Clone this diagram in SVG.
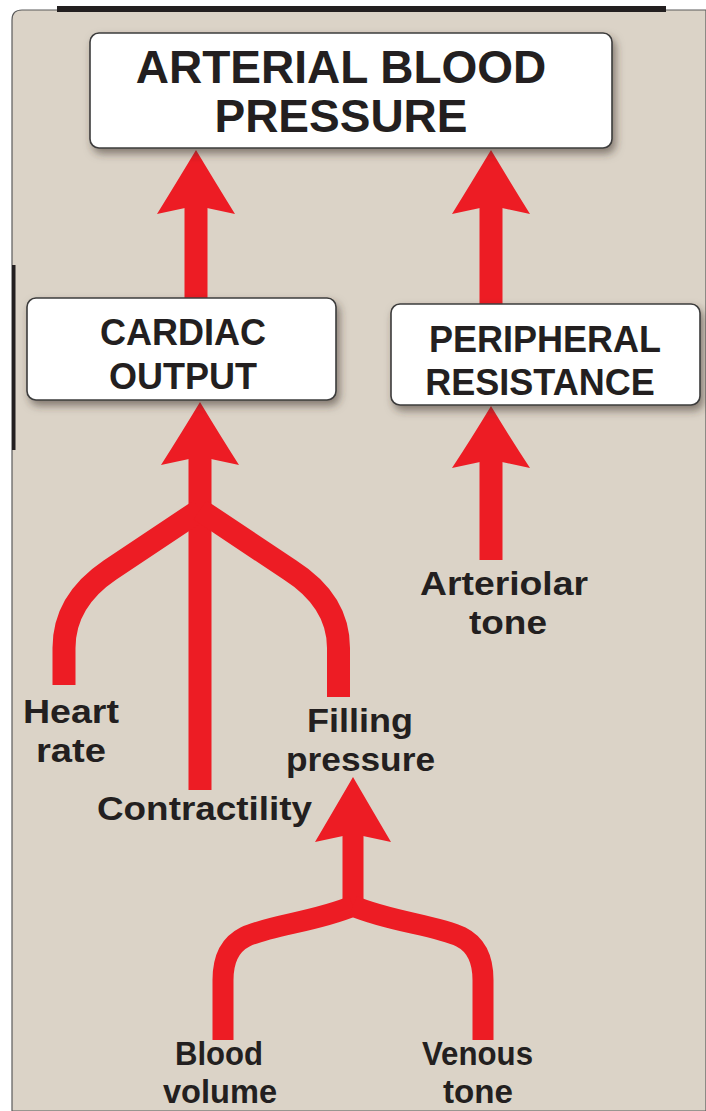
<svg xmlns="http://www.w3.org/2000/svg" width="706" height="1111" viewBox="0 0 706 1111">
<defs>
<filter id="sh" x="-10%" y="-20%" width="130%" height="150%">
<feDropShadow dx="3" dy="5" stdDeviation="4" flood-color="#3a3028" flood-opacity="0.55"/>
</filter>
<style>
.box{fill:#fff;stroke:#3c3c3c;stroke-width:1.6;filter:url(#sh)}
.t{font-family:"Liberation Sans",Arial,sans-serif;font-weight:700;fill:#231f20;text-anchor:middle}
.l{font-family:"Liberation Sans",Arial,sans-serif;font-weight:700;fill:#231f20;font-size:34px}
.s{fill:none;stroke:#ed1c24;stroke-width:23;stroke-linejoin:round}
.h{fill:#ed1c24}
</style>
</defs>
<rect x="0" y="0" width="706" height="1111" fill="#fff"/>
<path d="M12,1111 L12,20 Q12,10 22,10 L706,10 L706,1111 Z" fill="#dbd3c7" stroke="#5a5a5a" stroke-width="1.2"/>
<rect x="57" y="6" width="609" height="6" fill="#231f20"/>
<rect x="12" y="265" width="3.5" height="185" fill="#231f20"/>
<g id="connectors">
<path class="s" d="M196,300 L196,205"/>
<path class="h" d="M196,150 Q214,180 235,214 L207,208 L185,208 L157,214 Q178,180 196,150 Z"/>
<path class="s" d="M491,305 L491,205"/>
<path class="h" d="M491,150 Q509,180 530,214 L502,208 L480,208 L452,214 Q473,180 491,150 Z"/>
<path class="s" d="M491,560 L491,460"/>
<path class="h" d="M491,406 Q509,436 530,468 L502,462 L480,462 L452,468 Q473,436 491,406 Z"/>
<path class="s" d="M200,790 L200,455"/>
<path class="h" d="M200,402 Q218,432 239,465 L211,459 L189,459 L161,465 Q182,432 200,402 Z"/>
<path class="s" d="M200,510 L110,570 Q64,601 64,648 L64,685"/>
<path class="s" d="M200,510 L290,570 Q338.5,601 338.5,648 L338.5,697"/>
<path class="s" d="M353,906 L353,835" style="stroke-width:21"/>
<path class="h" d="M353,777 Q371,808 391,842 L363,836 L343,836 L315,842 Q335,808 353,777 Z"/>
<path class="s" d="M353,906 C315,922 270,925 245,937 Q223,948 223,980 L223,1040" style="stroke-width:21"/>
<path class="s" d="M353,906 C391,922 436,925 461,937 Q483,948 483,980 L483,1040" style="stroke-width:21"/>
</g>
<g id="arterial-blood-pressure">
<rect class="box" x="90" y="33" width="522" height="115" rx="9"/>
<text class="t" x="341" y="83" font-size="46">ARTERIAL BLOOD</text>
<text class="t" x="341" y="132" font-size="46">PRESSURE</text>
</g>
<g id="cardiac-output">
<rect class="box" x="27" y="298" width="309" height="102" rx="9"/>
<text class="t" x="183" y="345" font-size="36">CARDIAC</text>
<text class="t" x="183" y="389" font-size="36">OUTPUT</text>
</g>
<g id="peripheral-resistance">
<rect class="box" x="391" y="304" width="309" height="101" rx="9"/>
<text class="t" x="545" y="352" font-size="36">PERIPHERAL</text>
<text class="t" x="540" y="395" font-size="36">RESISTANCE</text>
</g>
<g id="heart-rate"><text class="l" x="23" y="723" textLength="96" lengthAdjust="spacingAndGlyphs">Heart</text><text class="l" x="36" y="762" textLength="70" lengthAdjust="spacingAndGlyphs">rate</text></g>
<g id="contractility"><text class="l" x="97" y="820" textLength="215" lengthAdjust="spacingAndGlyphs">Contractility</text></g>
<g id="filling-pressure"><text class="l" x="307" y="732" textLength="106" lengthAdjust="spacingAndGlyphs">Filling</text><text class="l" x="286" y="771" textLength="149" lengthAdjust="spacingAndGlyphs">pressure</text></g>
<g id="arteriolar-tone"><text class="l" x="420" y="595" textLength="168" lengthAdjust="spacingAndGlyphs">Arteriolar</text><text class="l" x="469" y="634" textLength="78" lengthAdjust="spacingAndGlyphs">tone</text></g>
<g id="blood-volume"><text class="l" x="175" y="1065" textLength="88" lengthAdjust="spacingAndGlyphs">Blood</text><text class="l" x="163" y="1103" textLength="114" lengthAdjust="spacingAndGlyphs">volume</text></g>
<g id="venous-tone"><text class="l" x="422" y="1065" textLength="111" lengthAdjust="spacingAndGlyphs">Venous</text><text class="l" x="443" y="1103" textLength="70" lengthAdjust="spacingAndGlyphs">tone</text></g>
</svg>
